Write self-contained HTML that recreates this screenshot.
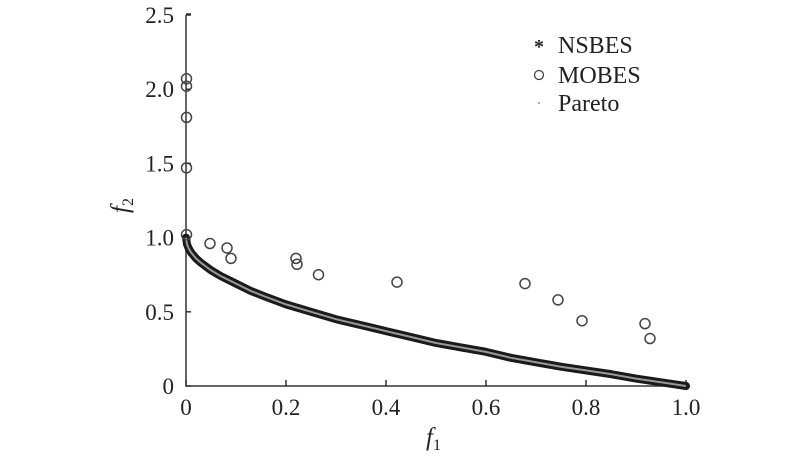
<!DOCTYPE html>
<html><head><meta charset="utf-8"><style>
html,body{margin:0;padding:0;background:#fff;}
svg text{font-family:"Liberation Serif",serif;fill:#222;}
</style></head><body>
<svg id="chart" width="800" height="469" xmlns="http://www.w3.org/2000/svg"></svg>
<script>
const xTicks=[0,0.2,0.4,0.6,0.8,1.0];
const xTickLabels=["0","0.2","0.4","0.6","0.8","1.0"];
const yTicks=[0,0.5,1.0,1.5,2.0,2.5];
const yTickLabels=["0","0.5","1.0","1.5","2.0","2.5"];
const paretoF1=[0,0.002,0.005,0.01,0.02,0.03,0.05,0.07,0.1,0.13,0.16,0.2,0.25,0.3,0.35,0.4,0.45,0.5,0.55,0.6,0.65,0.7,0.75,0.8,0.85,0.9,0.95,1.0];
const paretoF2=[1.0,0.955,0.93,0.9,0.86,0.83,0.78,0.74,0.69,0.64,0.6,0.55,0.5,0.45,0.41,0.37,0.33,0.29,0.26,0.23,0.19,0.16,0.13,0.105,0.08,0.05,0.025,0.0];
const mobesF1=[0.001,0.001,0.001,0.001,0.001,0.048,0.082,0.09,0.22,0.222,0.265,0.422,0.678,0.744,0.792,0.918,0.928];
const mobesF2=[2.07,2.02,1.81,1.47,1.02,0.96,0.93,0.86,0.86,0.82,0.75,0.70,0.69,0.58,0.44,0.42,0.32];
const X=v=>186+v*500, Y=v=>386-v*148.4;
const svg=document.getElementById('chart'), NS='http://www.w3.org/2000/svg';
function mk(tag,attrs,parent){const e=document.createElementNS(NS,tag);for(const k in attrs)e.setAttribute(k,attrs[k]);(parent||svg).appendChild(e);return e;}
let e;
e=mk('path',{d:`M${X(0)} ${Y(2.5)-1} H${X(0)+5} M${X(0)} ${Y(2.5)} V${Y(0)} H${X(1)}`,stroke:'#333','stroke-width':1.5,fill:'none'});


xTicks.forEach((t,i)=>{
 e=mk('line',{x1:X(t),x2:X(t),y1:Y(0),y2:Y(0)-6,stroke:'#333','stroke-width':1.5});
 
 
 e=mk('text',{x:X(t),y:415,'font-size':23,'text-anchor':'middle'});e.textContent=xTickLabels[i];
 
 
});
yTicks.forEach((t,i)=>{
 e=mk('line',{x1:X(0),x2:X(0)+5,y1:Y(t),y2:Y(t),stroke:'#333','stroke-width':1.5});
 
 
 e=mk('text',{x:174,y:Y(t)+8,'font-size':23,'text-anchor':'end'});e.textContent=yTickLabels[i];
 
 
});
e=mk('text',{x:426,y:445,'font-size':25,'font-style':'italic'});e.innerHTML='f<tspan font-size="16" dy="5" font-style="normal">1</tspan>';


e=mk('text',{x:0,y:0,'font-size':25,'font-style':'italic',transform:'translate(128,213) rotate(-90)'});e.innerHTML='f<tspan font-size="16" dy="5" font-style="normal">2</tspan>';


const pts=paretoF1.map((v,i)=>X(v)+','+Y(paretoF2[i])).join(' ');
e=mk('polyline',{points:pts,fill:'none',stroke:'#1a1a1a','stroke-width':8,'stroke-linejoin':'round','stroke-linecap':'round'});


e=mk('polyline',{points:pts,fill:'none',stroke:'#999','stroke-width':2});


mobesF1.forEach((v,i)=>{
 e=mk('circle',{cx:X(v),cy:Y(mobesF2[i]),r:5,fill:'none',stroke:'#444','stroke-width':1.5});
 
 
});
const leg=[['NSBES',45],['MOBES',75],['Pareto',103]];
leg.forEach(([n,y],i)=>{
 if(i==0){e=mk('text',{x:539,y:y+8,'font-size':20,'text-anchor':'middle','font-weight':'bold'});e.textContent='*';}
 else if(i==1){e=mk('circle',{cx:539,cy:y,r:4.5,fill:'none',stroke:'#444','stroke-width':1.3});}
 else{e=mk('circle',{cx:539,cy:y,r:1,fill:'#999'});}
 
 
 e=mk('text',{x:558,y:y+8,'font-size':24});e.textContent=n;
 
 
});
</script>
</body></html>
